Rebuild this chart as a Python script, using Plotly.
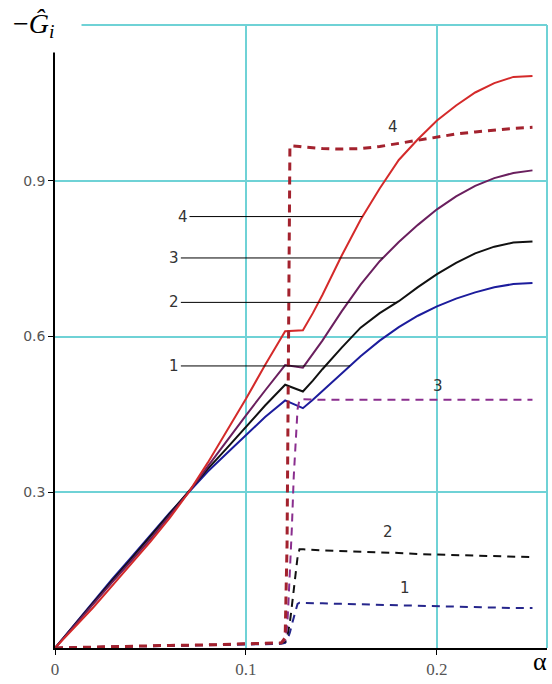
import numpy as np
import plotly.graph_objects as go

# --- data -------------------------------------------------------------
# argument values for the smooth (solid) curves
alpha = [0.0, 0.01, 0.02, 0.03, 0.04, 0.05, 0.06, 0.07, 0.08, 0.09, 0.10, 0.11,
         0.1205, 0.1298, 0.135, 0.14, 0.15, 0.16, 0.17, 0.18, 0.19, 0.20,
         0.21, 0.22, 0.23, 0.24, 0.25]

g1 = [0.0, 0.045, 0.09, 0.133, 0.175, 0.218, 0.26, 0.30, 0.34, 0.375, 0.41, 0.445,
      0.477, 0.462, 0.478, 0.495, 0.528, 0.562, 0.592, 0.618, 0.64, 0.658,
      0.673, 0.685, 0.695, 0.701, 0.703]
g2 = [0.0, 0.044, 0.088, 0.13, 0.172, 0.215, 0.258, 0.30, 0.345, 0.385, 0.427, 0.467,
      0.507, 0.494, 0.515, 0.537, 0.578, 0.617, 0.645, 0.668, 0.695, 0.72,
      0.742, 0.76, 0.773, 0.781, 0.783]
g3 = [0.0, 0.043, 0.085, 0.127, 0.168, 0.21, 0.255, 0.30, 0.35, 0.40, 0.448, 0.496,
      0.545, 0.540, 0.566, 0.592, 0.648, 0.70, 0.745, 0.782, 0.815, 0.845,
      0.87, 0.89, 0.905, 0.915, 0.92]
g4 = [0.0, 0.038, 0.078, 0.12, 0.162, 0.205, 0.25, 0.30, 0.357, 0.418, 0.48, 0.545,
      0.61, 0.612, 0.645, 0.68, 0.755, 0.825, 0.885, 0.94, 0.98, 1.016,
      1.045, 1.07, 1.088, 1.10, 1.102]

# argument values for the step-like (dashed) curves
alpha_d = [0.0, 0.02, 0.04, 0.06, 0.08, 0.10, 0.11, 0.1185, 0.1205, 0.1215, 0.122,
           0.123, 0.124, 0.125, 0.126, 0.127, 0.128, 0.13, 0.14, 0.15, 0.16, 0.17,
           0.18, 0.19, 0.20, 0.21, 0.22, 0.23, 0.24, 0.25]

d1 = [0.0, 0.002, 0.003, 0.004, 0.005, 0.006, 0.007, 0.008, 0.01, 0.015, 0.02,
      0.03, 0.045, 0.06, 0.075, 0.085, 0.087, 0.087, 0.086, 0.085, 0.084, 0.083,
      0.082, 0.081, 0.080, 0.079, 0.078, 0.078, 0.077, 0.077]
d2 = [0.0, 0.002, 0.004, 0.005, 0.006, 0.008, 0.009, 0.01, 0.012, 0.02, 0.03,
      0.05, 0.08, 0.11, 0.145, 0.175, 0.19, 0.19, 0.188, 0.187, 0.186, 0.184,
      0.183, 0.181, 0.18, 0.179, 0.178, 0.177, 0.176, 0.175]
d3 = [0.0, 0.002, 0.004, 0.005, 0.006, 0.008, 0.009, 0.01, 0.015, 0.04, 0.07,
      0.14, 0.23, 0.33, 0.41, 0.46, 0.478, 0.479, 0.478, 0.478, 0.478, 0.478,
      0.478, 0.478, 0.478, 0.478, 0.478, 0.478, 0.478, 0.478]
d4 = [0.0, 0.002, 0.004, 0.005, 0.006, 0.008, 0.009, 0.01, 0.02, 0.2, 0.45,
      0.967, 0.967, 0.967, 0.966, 0.966, 0.966, 0.965, 0.962, 0.961, 0.962, 0.966,
      0.972, 0.979, 0.985, 0.99, 0.994, 0.998, 1.001, 1.003]

curve_names = ["1", "2", "3", "4"]

# where the leader lines of the solid curves touch them, and where their numbers sit
leader_alpha = [0.1545, 0.179, 0.1717, 0.161]
leader_text_alpha = [0.0625, 0.0625, 0.0625, 0.067]
# where the numbers of the dashed curves sit
dash_label_alpha = [0.1832, 0.1743, 0.2005, 0.177]

x_ticks = [0.0, 0.1, 0.2]
x_tick_text = ["0", "0.1", "0.2"]
y_ticks = [0.3, 0.6, 0.9]
y_tick_text = ["0.3", "0.6", "0.9"]
x_max = 0.2576
y_max = 1.2

# --- styling ----------------------------------------------------------
solid_colors = ["#1c1c9c", "#111111", "#6a1f5e", "#d42a2a"]
dash_colors = ["#26268c", "#111111", "#8a2e8e", "#a3222e"]
dash_widths = [2, 2, 2, 3]
grid_color = "#6fd2d6"

fig = go.Figure()

solids = [g1, g2, g3, g4]
dashes = [d1, d2, d3, d4]

for ys, col in zip(solids, solid_colors):
    fig.add_trace(go.Scatter(x=alpha, y=ys, mode="lines",
                             line=dict(color=col, width=2), hoverinfo="skip"))

for ys, col, w in zip(dashes, dash_colors, dash_widths):
    fig.add_trace(go.Scatter(x=alpha_d, y=ys, mode="lines",
                             line=dict(color=col, width=w, dash="8px,6px"),
                             hoverinfo="skip"))

annotations = []
label_font = dict(family="DejaVu Sans", size=15, color="#333333")

# numbered leader lines for the solid curves
for name, ys, ax_tip, ax_txt in zip(curve_names, solids, leader_alpha, leader_text_alpha):
    y_tip = float(np.interp(ax_tip, alpha, ys))
    annotations.append(dict(x=ax_tip, y=y_tip, xref="x", yref="y",
                            ax=ax_txt, ay=y_tip, axref="x", ayref="y",
                            text=name, font=label_font, showarrow=True,
                            arrowhead=0, arrowwidth=1, arrowcolor="#000000"))

# numbers above the dashed curves
dash_label_lift = [18, 21, 14, 17]
for name, ys, ax_lab, lift in zip(curve_names, dashes, dash_label_alpha, dash_label_lift):
    y_lab = float(np.interp(ax_lab, alpha_d, ys))
    annotations.append(dict(x=ax_lab, y=y_lab, xref="x", yref="y", yshift=lift,
                            text=name, font=label_font, showarrow=False))

# ordinate title, drawn over the top-left corner of the frame
annotations.append(dict(x=-0.1, y=1.045, xref="paper", yref="paper",
                        xanchor="left", yanchor="top", showarrow=False,
                        text="\u2212<i>\u011c</i><sub><i>i</i></sub>",
                        font=dict(family="Liberation Serif", size=28, color="#000000"),
                        width=62, height=42, align="left", valign="middle",
                        bgcolor="#ffffff", borderpad=6))

# abscissa title
annotations.append(dict(x=0.986, y=-0.022, xref="paper", yref="paper",
                        xanchor="center", yanchor="middle", showarrow=False,
                        text="\u03b1",
                        font=dict(family="Liberation Serif", size=26, color="#000000")))

# cyan frame on the top and right sides of the plotting area
frame = [
    dict(type="line", xref="paper", yref="paper", x0=0, x1=1, y0=1, y1=1,
         line=dict(color=grid_color, width=2), layer="below"),
    dict(type="line", xref="paper", yref="paper", x0=1, x1=1, y0=0, y1=1,
         line=dict(color=grid_color, width=2), layer="below"),
]

fig.update_layout(
    width=552, height=684,
    margin=dict(l=55, r=5, t=25, b=26),
    paper_bgcolor="#ffffff", plot_bgcolor="#ffffff",
    showlegend=False,
    annotations=annotations,
    shapes=frame,
)

fig.update_xaxes(
    range=[0, x_max],
    tickvals=x_ticks, ticktext=x_tick_text,
    showgrid=True, gridcolor=grid_color, gridwidth=2,
    showline=True, linecolor="#000000", linewidth=1.5, mirror=False,
    zeroline=False, ticks="outside", ticklen=5, tickcolor="#000000",
    tickfont=dict(family="Liberation Serif", size=17, color="#555555"),
)
fig.update_yaxes(
    range=[0, y_max],
    tickvals=y_ticks, ticktext=y_tick_text,
    showgrid=True, gridcolor=grid_color, gridwidth=2,
    showline=True, linecolor="#000000", linewidth=1.5,
    zeroline=False, ticks="outside", ticklen=5, tickcolor="#000000",
    tickfont=dict(family="DejaVu Sans", size=14, color="#555555"),
)

fig.write_html("out.html")
